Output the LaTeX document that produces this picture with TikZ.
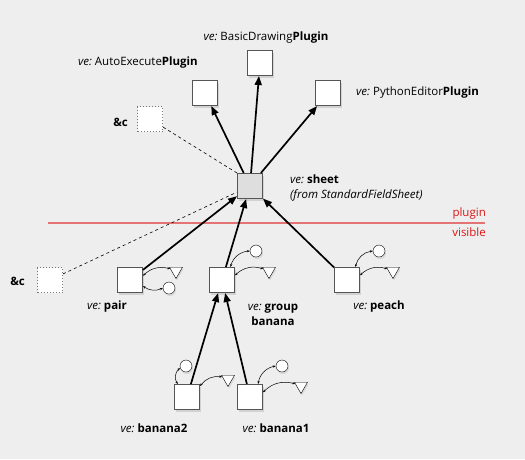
\documentclass[tikz,border=0pt]{standalone}
\usepackage{fontspec}
\setmainfont{Open Sans}
\usepackage{tikz}
\usetikzlibrary{arrows.meta,shapes.geometric,shadows}
\definecolor{paper}{RGB}{238,238,238}
\definecolor{frame}{RGB}{85,85,85}
\definecolor{layertext}{RGB}{220,20,20}
\definecolor{layerline}{RGB}{228,115,115}
\tikzset{
  ve/.style={draw=frame, line width=1pt, fill=white, minimum size=25pt, inner sep=0pt,
             drop shadow={shadow xshift=1.5pt, shadow yshift=-2.5pt, opacity=0.25}},
  stub/.style={draw=frame!80, dotted, line width=1pt, fill=white, minimum size=25pt, inner sep=0pt},
  dot/.style={circle, draw=black, fill=white, minimum size=12pt, inner sep=0pt,
              drop shadow={shadow xshift=1pt, shadow yshift=-2pt, opacity=0.2}},
  tri/.style={regular polygon, regular polygon sides=3, shape border rotate=180, draw=black,
              fill=white, minimum size=15pt, inner sep=0pt,
              drop shadow={shadow xshift=1pt, shadow yshift=-2pt, opacity=0.2}},
  lbl/.style={font=\fontsize{11.5}{15}\selectfont, inner sep=0pt, align=center},
  flow/.style={-{Triangle[length=9pt,width=7pt]}, line width=1.7pt},
  hint/.style={dashed, line width=0.6pt},
  knob/.style={{Stealth[length=3pt]}-{Stealth[length=3pt]}, line width=0.5pt},
  cut/.style={draw=layerline, line width=1.1pt},
}
\newcommand{\ve}{\textit{ve:}~}

\begin{document}
\begin{tikzpicture}[x=1pt, y=-1pt]
        \fill[paper] (0,0) rectangle (525,459);
        % ===================== layers =====================
        \coordinate (cutL) at (48,223);
        \coordinate (cutR) at (485,223);
        \draw[cut] (cutL) -- (cutR);
        \node[lbl, text=layertext, anchor=south east] (plugL) at (486,219) {plugin};
        \node[lbl, text=layertext, anchor=north east] (visL)  at (486,228) {visible};
        % ===================== plugins =====================
        \node[ve] (basic) at (260,63) {};
        \node[ve] (auto)  at (205,93) {};
        \node[ve] (pyed)  at (328,93) {};
        \node[stub] (etcA) at (150,119) {};
        \node[lbl] (basicL) at (266,38) {\ve BasicDrawing\textbf{Plugin}};
        \node[lbl, anchor=east] (autoL) at (198,63) {\ve AutoExecute\textbf{Plugin}};
        \node[lbl, anchor=west] (pyedL) at (356,93) {\ve PythonEditor\textbf{Plugin}};
        \node[lbl, anchor=east] (etcAL) at (128,122) {\textbf{\&c}};
        % ===================== sheet =====================
        \node[ve, fill=black!13] (sheet) at (250,186) {};
        \node[lbl, anchor=north west, align=left] (sheetL) at (290,175)
          {\ve\textbf{sheet}\\[0pt]\textit{(from StandardFieldSheet)}};
        \draw[flow] (sheet) -- (auto);
        \draw[flow] (sheet) -- (basic);
        \draw[flow] (sheet) -- (pyed);
        \draw[hint] (sheet.north west) -- (etcA);
        % ===================== visible =====================
        \node[stub] (etcB)  at (50,280) {};
        \node[ve]   (pair)  at (130,280) {};
        \node[ve]   (group) at (222,280) {};
        \node[ve]   (peach) at (347,280) {};
        \node[ve]   (ban2)  at (187,397) {};
        \node[ve]   (ban1)  at (250,397) {};
        \node[lbl, anchor=east] (etcBL) at (25,281) {\textbf{\&c}};
        \node[lbl] (pairL)  at (107,307) {\ve\textbf{pair}};
        \node[lbl] (groupL) at (273,315) {\ve\textbf{group}\\\textbf{banana}};
        \node[lbl] (peachL) at (379,307) {\ve\textbf{peach}};
        \node[lbl] (ban2L)  at (154,428) {\ve\textbf{banana2}};
        \node[lbl] (ban1L)  at (276,428) {\ve\textbf{banana1}};
        \draw[flow] (pair)  -- (sheet);
        \draw[flow] (group) -- (sheet);
        \draw[flow] (peach) -- (sheet);
        \draw[hint] (etcB) -- (sheet);
        \draw[flow] (ban2) -- (group);
        \draw[flow] (ban1) -- (group);
        % ===================== knobs =====================
        \node[tri] (pairT)  at (176,271) {};
        \node[dot] (pairC)  at (169,288) {};
        \node[dot] (groupC) at (256,251) {};
        \node[tri] (groupT) at (269,271) {};
        \node[dot] (peachC) at (379,251) {};
        \node[tri] (peachT) at (393,271) {};
        \node[dot] (ban2C)  at (186,366) {};
        \node[tri] (ban2T)  at (228,379) {};
        \node[dot] (ban1C)  at (282,366) {};
        \node[tri] (ban1T)  at (301,386) {};
        \draw[knob] (pair.18)   to[bend left=30]  (pairT.160);
        \draw[knob] (pair.-25)  to[bend right=30] (pairC.west);
        \draw[knob] (group.57)  to[bend left=35]  (groupC.west);
        \draw[knob] (group.20)  to[bend left=30]  (groupT.160);
        \draw[knob] (peach.57)  to[bend left=35]  (peachC.west);
        \draw[knob] (peach.20)  to[bend left=30]  (peachT.160);
        \draw[knob] (ban2.125)  to[bend left=45]  (ban2C.200);
        \draw[knob] (ban2.40)   to[bend left=30]  (ban2T.160);
        \draw[knob] (ban1.58)   to[bend left=35]  (ban1C.west);
        \draw[knob] (ban1.20)   to[bend left=30]  (ban1T.160);
\end{tikzpicture}
\end{document}
